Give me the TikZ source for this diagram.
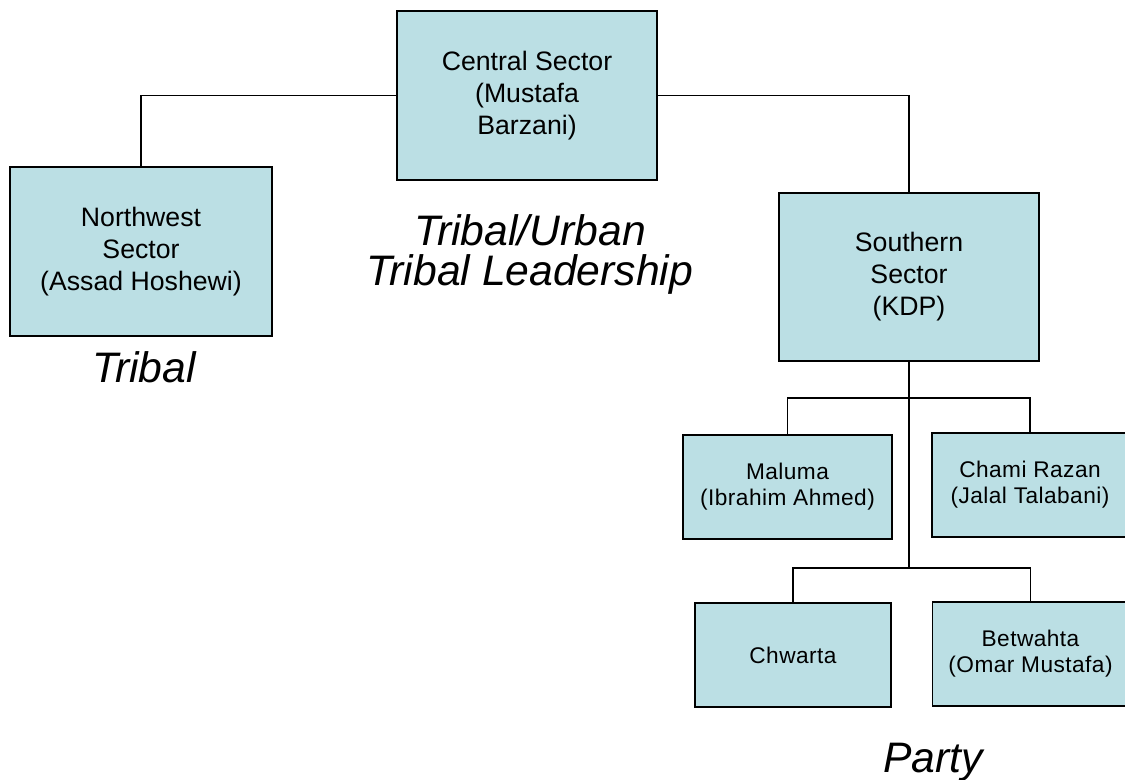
\documentclass[tikz,border=0pt]{standalone}
\usepackage{fontspec}
\setmainfont{Liberation Sans}
\newfontfamily\cellfont[LetterSpace=2]{Liberation Sans}
\usetikzlibrary{positioning}
\definecolor{sectorblue}{RGB}{187,223,228}

\begin{document}
\begin{tikzpicture}[
    x=0.75pt, y=-0.75pt,
    line width=1.2pt,
    sector/.style={
        draw, fill=sectorblue,
        inner sep=0pt, align=center,
        font=\fontsize{20}{24}\selectfont
    },
    cell/.style={
        sector,
        minimum width=147pt, minimum height=78pt,
        font=\cellfont\fontsize{17}{19.5}\selectfont
    },
    style label/.style={
        align=center, inner sep=0pt,
        font=\itshape\fontsize{32}{30}\selectfont
    }
]
\useasboundingbox (0,0) rectangle (1125,780);
\clip (0,0) rectangle (1125,780);

% sectors
\node[sector, minimum width=195pt, minimum height=126.75pt] (central) at (527,95.5)
    {Central Sector\\(Mustafa\\Barzani)};
\node[sector, minimum width=196.5pt, minimum height=126.75pt] (northwest) at (141,251.5)
    {Northwest\\Sector\\(Assad Hoshewi)};
\node[sector, minimum width=195pt, minimum height=126pt] (southern) at (909,277)
    {Southern\\Sector\\(KDP)};

% sub-units of the southern sector
\node[cell, minimum width=156.75pt] (maluma) at (787.5,487) {Maluma\\(Ibrahim Ahmed)};
\node[cell] (chami) at (1030,485) {Chami Razan\\(Jalal Talabani)};
\node[cell] (chwarta) at (793,655) {Chwarta};
\node[cell] (betwahta) at (1030.5,654) {Betwahta\\(Omar Mustafa)};

% labels
\node[style label, anchor=base] (tribal) at (144,383) {Tribal};
\node[style label] (urban) at (530,254) {Tribal/Urban\\Tribal Leadership};
\node[style label, anchor=base] (party) at (933,772) {Party};

% connectors
\draw (central.west) -| (northwest.north);
\draw (central.east) -| (southern.north);
\coordinate (upper split) at (909,398);
\coordinate (lower split) at (909,568);
\draw (southern.south) -- (lower split);
\draw (upper split) -| (maluma.north);
\draw (upper split) -| (chami.north);
\draw (lower split) -| (chwarta.north);
\draw (lower split) -| (betwahta.north);
\end{tikzpicture}
\end{document}
